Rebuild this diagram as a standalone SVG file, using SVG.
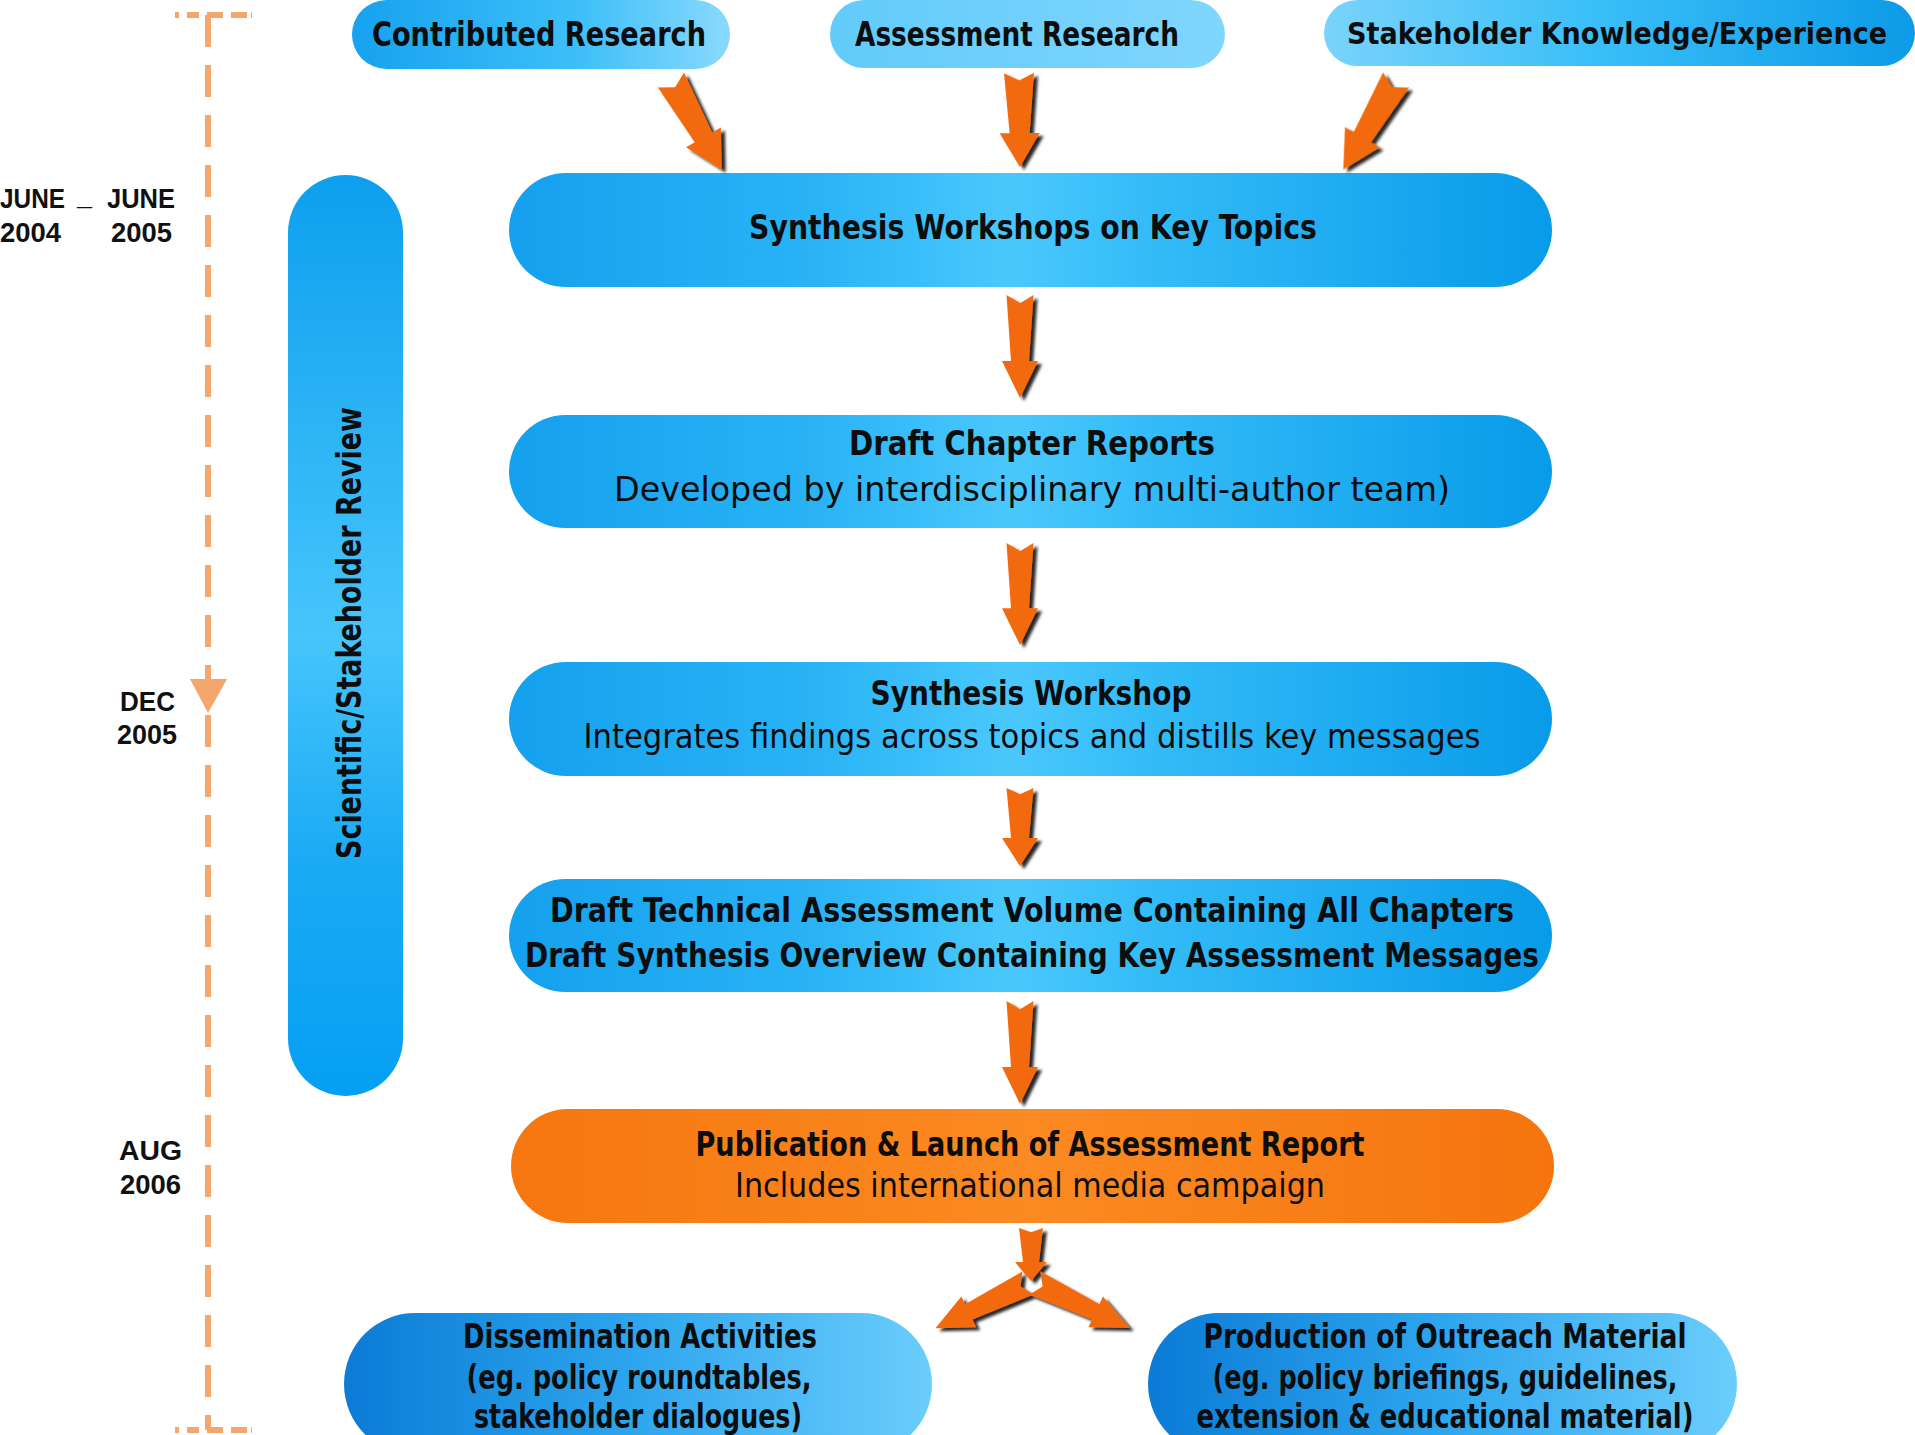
<svg xmlns="http://www.w3.org/2000/svg" xmlns:xlink="http://www.w3.org/1999/xlink" width="1915" height="1435" viewBox="0 0 1915 1435">
<style>
.t{font-family:"Liberation Sans Narrow","DejaVu Sans Condensed","Liberation Sans",sans-serif;font-size:33px;font-weight:bold;fill:#0d0d0d;text-anchor:middle}
.r{font-weight:normal}
.s{font-size:30px}
.d{font-family:"Liberation Sans","DejaVu Sans",sans-serif;font-size:27px;font-weight:bold;fill:#111}
.tl{stroke:#f5a66c;stroke-width:6;fill:none}
.arr{fill:#f26b0c}
</style>
<defs>
<linearGradient id="gMain" x1="0" y1="0" x2="1" y2="0">
<stop offset="0" stop-color="#14a0ee"/><stop offset="0.3" stop-color="#2ab4f6"/><stop offset="0.48" stop-color="#4ac8fc"/><stop offset="0.62" stop-color="#33bbf8"/><stop offset="1" stop-color="#089be9"/>
</linearGradient>
<linearGradient id="gContrib" x1="0" y1="0" x2="1" y2="0">
<stop offset="0" stop-color="#16a2ef"/><stop offset="0.6" stop-color="#3dbff9"/><stop offset="1" stop-color="#8ad9fd"/>
</linearGradient>
<linearGradient id="gAssess" x1="0" y1="0" x2="1" y2="0">
<stop offset="0" stop-color="#62cbfa"/><stop offset="1" stop-color="#80d6fd"/>
</linearGradient>
<linearGradient id="gStake" x1="0" y1="0" x2="1" y2="0">
<stop offset="0" stop-color="#7ad3fb"/><stop offset="0.45" stop-color="#3bbff8"/><stop offset="1" stop-color="#0c9be8"/>
</linearGradient>
<linearGradient id="gBottom" x1="0" y1="0" x2="1" y2="0">
<stop offset="0" stop-color="#0b7bd6"/><stop offset="0.5" stop-color="#2ea6ee"/><stop offset="1" stop-color="#6bcdfc"/>
</linearGradient>
<linearGradient id="gReview" x1="0" y1="0" x2="0" y2="1">
<stop offset="0" stop-color="#0d9fee"/><stop offset="0.5" stop-color="#46c5fb"/><stop offset="0.75" stop-color="#1aaaf4"/><stop offset="1" stop-color="#05a0f3"/>
</linearGradient>
<linearGradient id="gOrange" x1="0" y1="0" x2="1" y2="0">
<stop offset="0" stop-color="#f6760f"/><stop offset="0.5" stop-color="#fb8a22"/><stop offset="1" stop-color="#f5740e"/>
</linearGradient>
<filter id="sh" x="-20%" y="-20%" width="140%" height="140%">
<feDropShadow dx="4" dy="3" stdDeviation="1.5" flood-color="#000" flood-opacity="0.85"/>
</filter>
<path id="arrow" d="M -15,0 L 0,8 L 15,0 L 10,64 L 20,64 L 0,100 L -20,64 L -10,64 Z"/>
</defs>
<rect width="1915" height="1435" fill="#ffffff"/>

<g id="timeline">
<line class="tl" x1="175" y1="15" x2="252" y2="15" stroke-dasharray="4 8 12 8 16 8 16"/>
<line class="tl" x1="208" y1="15" x2="208" y2="1430" stroke-dasharray="32 18"/>
<line class="tl" x1="175" y1="1430" x2="252" y2="1430" stroke-dasharray="4 8 12 8 16 8 16"/>
<polygon points="190,679 227,679 208,713" fill="#f5a66c"/>
<text class="d" x="0" y="208" textLength="65" lengthAdjust="spacingAndGlyphs">JUNE</text>
<text class="d" x="77" y="205">_</text>
<text class="d" x="107" y="208" textLength="68" lengthAdjust="spacingAndGlyphs">JUNE</text>
<text class="d" x="0" y="242" textLength="61" lengthAdjust="spacingAndGlyphs">2004</text>
<text class="d" x="111" y="242" textLength="61" lengthAdjust="spacingAndGlyphs">2005</text>
<text class="d" x="120" y="711" textLength="55" lengthAdjust="spacingAndGlyphs">DEC</text>
<text class="d" x="117" y="744" textLength="60" lengthAdjust="spacingAndGlyphs">2005</text>
<text class="d" x="119" y="1160" textLength="63" lengthAdjust="spacingAndGlyphs">AUG</text>
<text class="d" x="120" y="1194" textLength="61" lengthAdjust="spacingAndGlyphs">2006</text>
</g>

<g id="review">
<rect x="288" y="175" width="115" height="921" rx="57.5" fill="url(#gReview)"/>
<text class="t" transform="translate(361,633) rotate(-90)" x="0" y="0" textLength="452" lengthAdjust="spacingAndGlyphs">Scientific/Stakeholder Review</text>
</g>

<g id="contributed">
<rect x="352" y="0" width="378" height="69" rx="34.5" fill="url(#gContrib)"/>
<text class="t" x="539" y="46" textLength="334" lengthAdjust="spacingAndGlyphs">Contributed Research</text>
</g>
<g id="assessment">
<rect x="830" y="0" width="395" height="68" rx="34" fill="url(#gAssess)"/>
<text class="t" x="1017" y="46" textLength="324" lengthAdjust="spacingAndGlyphs">Assessment Research</text>
</g>
<g id="stakeholder">
<rect x="1324" y="0" width="591" height="66" rx="33" fill="url(#gStake)"/>
<text class="t s" x="1617" y="44" textLength="540" lengthAdjust="spacingAndGlyphs">Stakeholder Knowledge/Experience</text>
</g>

<g id="synthesis-workshops">
<rect x="509" y="173" width="1043" height="114" rx="57" fill="url(#gMain)"/>
<text class="t" x="1033" y="239" textLength="568" lengthAdjust="spacingAndGlyphs">Synthesis Workshops on Key Topics</text>
</g>
<g id="draft-chapter">
<rect x="509" y="415" width="1043" height="113" rx="56.5" fill="url(#gMain)"/>
<text class="t" x="1032" y="455" textLength="366" lengthAdjust="spacingAndGlyphs">Draft Chapter Reports</text>
<text class="t r" x="1032" y="501" textLength="836" lengthAdjust="spacingAndGlyphs">Developed by interdisciplinary multi-author team)</text>
</g>
<g id="synthesis-workshop">
<rect x="509" y="662" width="1043" height="114" rx="57" fill="url(#gMain)"/>
<text class="t" x="1031" y="705" textLength="321" lengthAdjust="spacingAndGlyphs">Synthesis Workshop</text>
<text class="t r" x="1032" y="748" textLength="897" lengthAdjust="spacingAndGlyphs">Integrates findings across topics and distills key messages</text>
</g>
<g id="draft-technical">
<rect x="509" y="879" width="1043" height="113" rx="56.5" fill="url(#gMain)"/>
<text class="t" x="1032" y="922" textLength="964" lengthAdjust="spacingAndGlyphs">Draft Technical Assessment Volume Containing All Chapters</text>
<text class="t" x="1032" y="967" textLength="1014" lengthAdjust="spacingAndGlyphs">Draft Synthesis Overview Containing Key Assessment Messages</text>
</g>
<g id="publication">
<rect x="511" y="1109" width="1043" height="114" rx="57" fill="url(#gOrange)"/>
<text class="t" x="1030" y="1156" textLength="669" lengthAdjust="spacingAndGlyphs">Publication &amp; Launch of Assessment Report</text>
<text class="t r" x="1030" y="1197" textLength="590" lengthAdjust="spacingAndGlyphs">Includes international media campaign</text>
</g>
<g id="dissemination">
<rect x="344" y="1313" width="588" height="142" rx="71" fill="url(#gBottom)"/>
<text class="t" x="640" y="1348" textLength="354" lengthAdjust="spacingAndGlyphs">Dissemination Activities</text>
<text class="t" x="639" y="1389" textLength="345" lengthAdjust="spacingAndGlyphs">(eg. policy roundtables,</text>
<text class="t" x="638" y="1428" textLength="328" lengthAdjust="spacingAndGlyphs">stakeholder dialogues)</text>
</g>
<g id="outreach">
<rect x="1148" y="1313" width="589" height="142" rx="71" fill="url(#gBottom)"/>
<text class="t" x="1445" y="1348" textLength="483" lengthAdjust="spacingAndGlyphs">Production of Outreach Material</text>
<text class="t" x="1445" y="1389" textLength="465" lengthAdjust="spacingAndGlyphs">(eg. policy briefings, guidelines,</text>
<text class="t" x="1445" y="1428" textLength="497" lengthAdjust="spacingAndGlyphs">extension &amp; educational material)</text>
</g>

<g id="connectors" class="arr" filter="url(#sh)">
<use xlink:href="#arrow" transform="translate(671,80) rotate(-29.5) scale(1,1.03)"/>
<use xlink:href="#arrow" transform="translate(1019,73) rotate(-0.6) scale(1,0.94)"/>
<use xlink:href="#arrow" transform="translate(1396,80) rotate(30.5) scale(1,1.04)"/>
<use xlink:href="#arrow" transform="translate(1020,295) scale(0.9,1.03)"/>
<use xlink:href="#arrow" transform="translate(1020,543) scale(0.9,1.02)"/>
<use xlink:href="#arrow" transform="translate(1020,788) scale(0.9,0.78)"/>
<use xlink:href="#arrow" transform="translate(1020,1001) scale(0.9,1.03)"/>
<use xlink:href="#arrow" transform="translate(1031,1228) scale(0.8,0.53)"/>
<use xlink:href="#arrow" transform="translate(1028,1283) rotate(64) scale(0.85,1.03)"/>
<use xlink:href="#arrow" transform="translate(1035,1283) rotate(-64.6) scale(0.85,1.05)"/>
</g>
</svg>
